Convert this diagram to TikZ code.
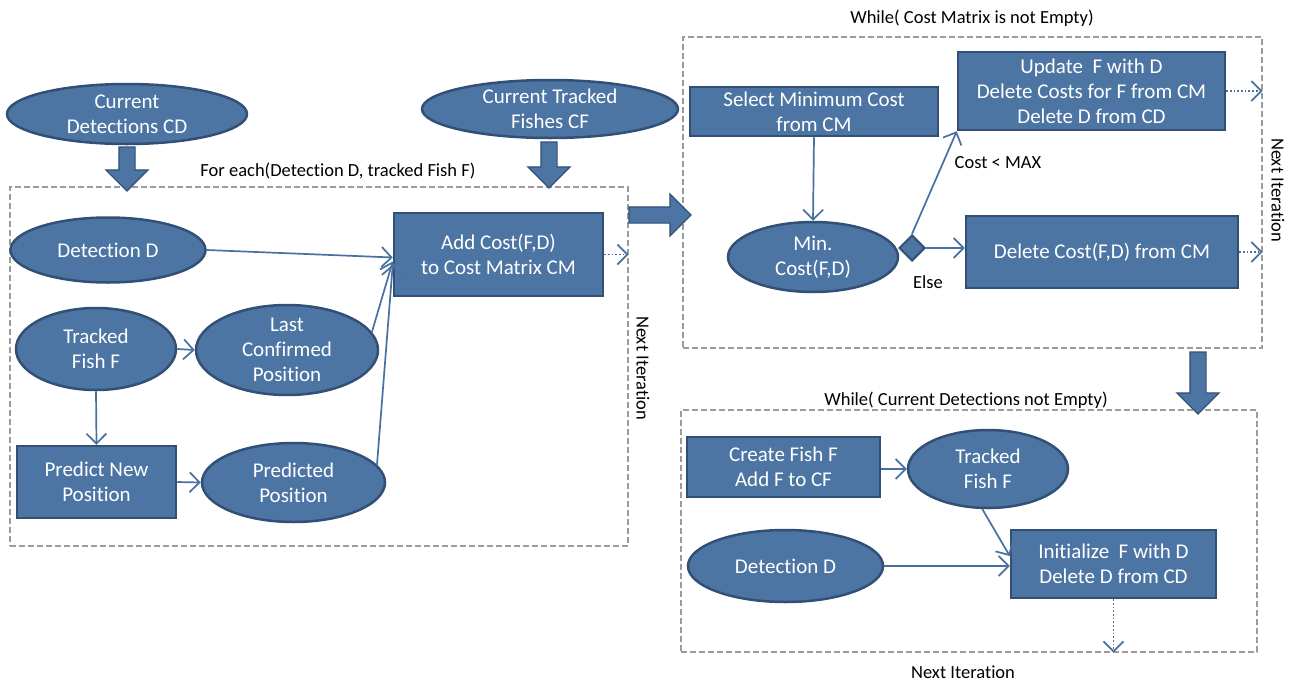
\documentclass[tikz,border=0pt]{standalone}
\usepackage{fontspec}
\setmainfont[Ligatures={NoCommon}]{Carlito}
\usetikzlibrary{shapes.geometric,shapes.arrows,arrows.meta,calc}
\definecolor{boxfill}{RGB}{77,117,164}
\definecolor{boxline}{RGB}{50,80,118}
\definecolor{arrowc}{RGB}{72,112,160}
\definecolor{dashc}{RGB}{155,155,155}
\tikzset{
 base/.style={fill=boxfill, draw=boxline, line width=2.5pt, text=white,
   font=\fontsize{21}{25}\selectfont, align=center, inner sep=0pt},
 ell/.style={base, ellipse},
 rbox/.style={base, rectangle},
 conn/.style={draw=arrowc, line width=1.7pt, -{Straight Barb[length=10pt,width=20pt]}},
 dotconn/.style={conn, dotted, line width=1.8pt},
 frame/.style={draw=dashc, line width=1.3pt, dash pattern=on 6pt off 3pt, inner sep=0pt, rectangle},
 lbl/.style={font=\fontsize{18.5}{22}\selectfont, text=black, inner sep=0pt},
 fat/.style={single arrow, fill=boxfill, draw=boxline, line width=1.2pt,
   inner xsep=0pt, inner ysep=7.5pt, single arrow head extend=13pt, minimum height=#1},
 dia/.style={diamond, fill=boxfill, draw=boxline, line width=2pt, minimum size=26pt, inner sep=0pt}
}
\begin{document}
\begin{tikzpicture}[x=1pt,y=-1pt]
\useasboundingbox (0,0) rectangle (1291,683);
\fill[white] (0,0) rectangle (1291,683);
% frames
\node[frame, minimum width=618pt, minimum height=359pt] (lframe) at (319,366.5) {};
\node[frame, minimum width=579pt, minimum height=311pt] (rframe) at (972.5,192.5) {};
\node[frame, minimum width=576pt, minimum height=242pt] (bframe) at (969,531) {};
% top inputs
\node[ell, minimum width=240pt, minimum height=60pt] (cd) at (127,114) {Current\\Detections CD};
\node[ell, minimum width=256pt, minimum height=58pt] (cf) at (550,109) {Current Tracked\\Fishes CF};
% left box
\node[lbl] (foreach) at (338,171) {For each(Detection D, tracked Fish F)};
\node[ell, minimum width=195pt, minimum height=65pt] (dd) at (108,250) {Detection D};
\node[rbox, minimum width=209pt, minimum height=83pt] (addc) at (498.5,254.5) {Add Cost(F,D)\\to Cost Matrix CM};
\node[ell, minimum width=160pt, minimum height=82pt] (tff) at (96,349) {Tracked\\Fish F};
\node[ell, minimum width=182pt, minimum height=84pt] (lcp) at (287,350) {Last\\Confirmed\\Position};
\node[rbox, minimum width=159pt, minimum height=72pt] (pnp) at (96.5,482) {Predict New\\Position};
\node[ell, minimum width=183pt, minimum height=79pt] (pp) at (293.5,482.5) {Predicted\\Position};
\node[lbl, rotate=-90] (ni1) at (643,368) {Next Iteration};
% right top
\node[lbl] (wcm) at (972,18) {While( Cost Matrix is not Empty)};
\node[rbox, minimum width=248pt, minimum height=49pt] (sel) at (814,111.5) {Select Minimum Cost\\from CM};
\node[rbox, minimum width=267pt, minimum height=78pt] (upd) at (1091.5,91) {Update \ F with D\\Delete Costs for F from CM\\Delete D from CD};
\node[ell, minimum width=170pt, minimum height=70pt] (minc) at (813,257) {Min.\\Cost(F,D)};
\node[dia] (dec) at (912,248) {};
\node[rbox, minimum width=272pt, minimum height=72pt] (delc) at (1102,252) {Delete Cost(F,D) from CM};
\node[lbl] (cmax) at (998,163) {Cost < MAX};
\node[lbl] (else) at (928,282) {Else};
\node[lbl, rotate=-90] (ni2) at (1278,190) {Next Iteration};
% bottom right
\node[lbl] (wcd) at (966,400) {While( Current Detections not Empty)};
\node[rbox, minimum width=193pt, minimum height=60pt] (cff) at (783.5,467) {Create Fish F\\Add F to CF};
\node[ell, minimum width=160pt, minimum height=78pt] (btf) at (988,469) {Tracked\\Fish F};
\node[ell, minimum width=195pt, minimum height=72pt] (bdd) at (785.5,566) {Detection D};
\node[rbox, minimum width=205pt, minimum height=68pt] (init) at (1113.5,564) {Initialize \ F with D\\Delete D from CD};
\node[lbl] (ni3) at (963,672) {Next Iteration};
% fat arrows
\node[fat=44pt, rotate=-90] (fa1) at (127,165) {};
\node[fat=46pt, rotate=-90] (fa2) at (549,161) {};
\node[fat=62pt] (fa3) at (656,215) {};
\node[fat=62pt, rotate=-90] (fa4) at (1198,379) {};
% connectors left
\draw[conn] (dd.east) -- ($(addc.west)+(0,3)$);
\draw[conn] (lcp.12) -- ($(addc.west)+(0,7)$);
\draw[conn] (pp.12) -- ($(addc.west)+(0,10)$);
\draw[conn] (tff.east) -- (lcp.west);
\draw[conn] (tff.south) -- (pnp.north);
\draw[conn] (pnp.east) -- (pp.west);
\draw[dotconn] (addc.east) -- (addc.east -| lframe.east);
% connectors right top
\draw[conn] (sel.south) -- (minc.north);
\draw[conn] (dec.north) -- (upd.south west);
\draw[conn] (dec.east) -- (dec.east -| delc.west);
\draw[dotconn] (upd.east) -- (upd.east -| rframe.east);
\draw[dotconn] (delc.east) -- (delc.east -| rframe.east);
% connectors bottom
\draw[conn] (cff.east |- btf.west) -- (btf.west);
\draw[conn] (btf.262) -- ($(init.west)+(0,-8)$);
\draw[conn] (bdd.east) -- (bdd.east -| init.west);
\draw[dotconn] (init.south) -- (init.south |- bframe.south);
\end{tikzpicture}
\end{document}
